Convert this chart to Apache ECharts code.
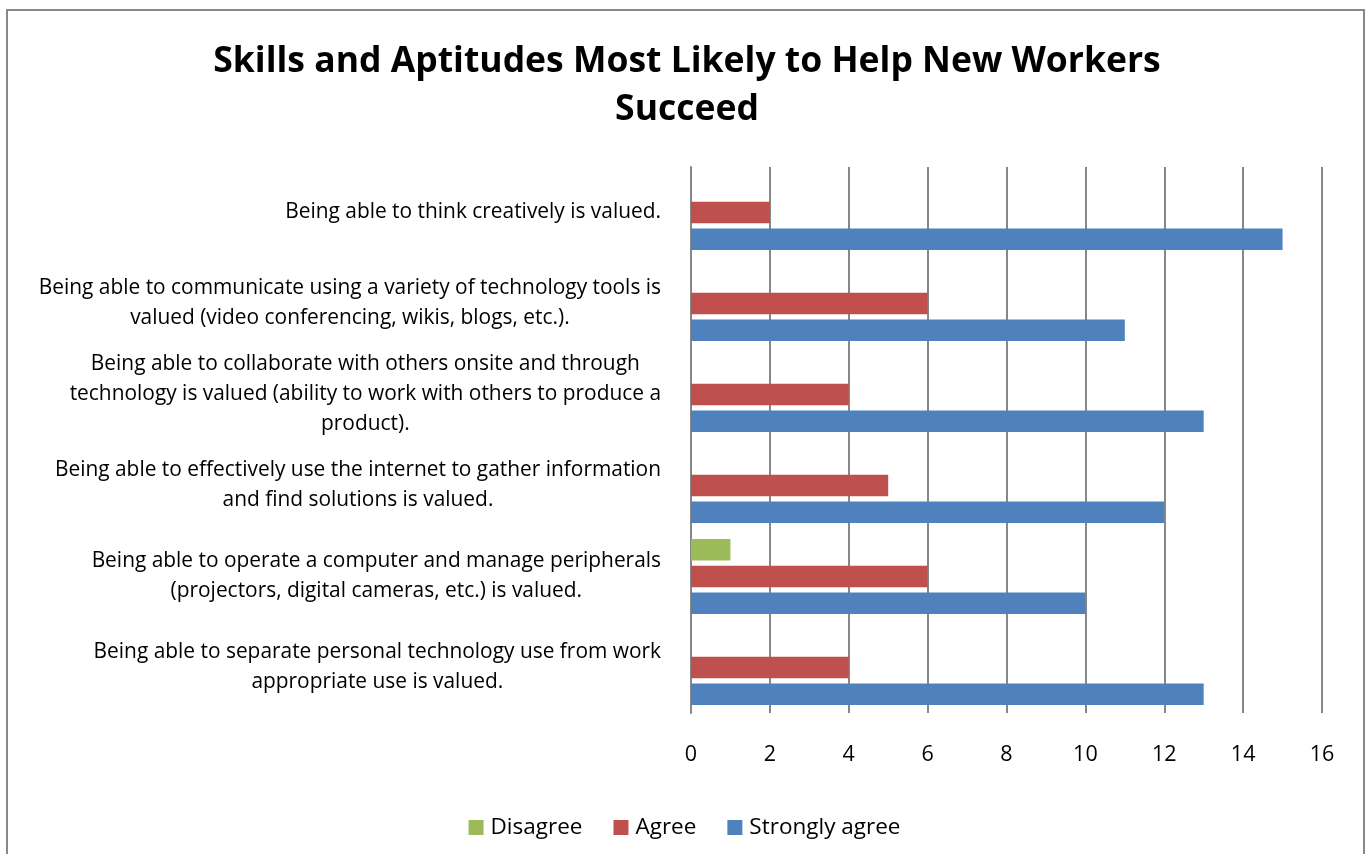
<!DOCTYPE html>
<html>
<head>
    <meta charset="utf-8">
    <title>Skills and Aptitudes Most Likely to Help New Workers Succeed</title>
    <script src="https://cdn.jsdelivr.net/npm/echarts@6/dist/echarts.min.js"></script>
    <style>
        html, body { margin: 0; padding: 0; background: #fff; }
    </style>
</head>
<body>
    <div id="main" style="width: 1369px; height: 854px;"></div>

    <script>
        // categories, top to bottom
        const categories = [
            'Being able to think creatively is valued.',
            'Being able to communicate using a variety of technology tools is\nvalued (video conferencing, wikis, blogs, etc.).',
            'Being able to collaborate with others onsite and through\ntechnology is valued (ability to work with others to produce a\nproduct).',
            'Being able to effectively use the internet to gather information\nand find solutions is valued.',
            'Being able to operate a computer and manage peripherals\n(projectors, digital cameras, etc.) is valued.',
            'Being able to separate personal technology use from work\nappropriate use is valued.'
        ];
        const seriesNames = ['Disagree', 'Agree', 'Strongly agree'];
        const disagree = [null, null, null, null, 1, null];
        const agree = [2, 6, 4, 5, 6, 4];
        const stronglyAgree = [15, 11, 13, 12, 10, 13];
        const colors = ['#9BBB59', '#C0504D', '#4F81BD'];

        const font = '"Open Sans", Lato, sans-serif';

        const chart = echarts.init(document.getElementById('main'));

        const barSeries = [disagree, agree, stronglyAgree].map((data, i) => ({
            name: seriesNames[i],
            type: 'bar',
            data: data,
            barWidth: 21.5,
            barGap: '24%',
            itemStyle: { color: colors[i] },
            z: 3
        }));

        const option = {
            animation: false,
            color: colors,
            title: {
                text: 'Skills and Aptitudes Most Likely to Help New Workers\nSucceed',
                left: 682,
                textAlign: 'center',
                top: 33,
                textStyle: {
                    fontFamily: font,
                    fontWeight: 'bold',
                    fontSize: 35.5,
                    lineHeight: 48,
                    color: '#000'
                }
            },
            legend: {
                data: seriesNames,
                left: 'center',
                top: 811,
                itemWidth: 15,
                itemHeight: 15,
                itemGap: 31,
                icon: 'rect',
                textStyle: {
                    fontFamily: font,
                    fontSize: 22.5,
                    color: '#000',
                    padding: [0, 0, 0, 2]
                }
            },
            grid: {
                left: 691,
                right: 47,
                top: 167,
                bottom: 141,
                containLabel: false
            },
            xAxis: {
                type: 'value',
                min: 0,
                max: 16,
                interval: 2,
                axisLine: { show: false },
                axisTick: { show: false },
                axisLabel: {
                    margin: 31,
                    fontFamily: font,
                    fontSize: 21.5,
                    color: '#000'
                },
                splitLine: {
                    show: true,
                    lineStyle: { color: '#878787', width: 2 }
                }
            },
            yAxis: {
                type: 'category',
                inverse: true,
                data: categories,
                axisLine: {
                    show: true,
                    lineStyle: { color: '#878787', width: 2 }
                },
                axisTick: { show: false },
                axisLabel: {
                    margin: 30,
                    align: 'right',
                    formatter: value => value.split('\n').map(l => '{c|' + l + '}').join('\n'),
                    rich: {
                        c: {
                            align: 'center',
                            fontFamily: font,
                            fontSize: 20.9,
                            lineHeight: 30,
                            color: '#000'
                        }
                    }
                }
            },
            graphic: [{
                type: 'rect',
                shape: { x: 7, y: 10, width: 1357, height: 860 },
                style: { fill: 'none', stroke: '#888', lineWidth: 2 },
                silent: true
            }],
            series: barSeries
        };

        chart.setOption(option);
    </script>
</body>
</html>
